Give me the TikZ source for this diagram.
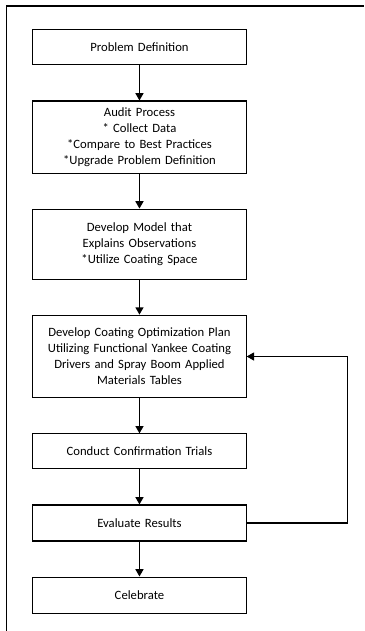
\documentclass[tikz,border=0pt]{standalone}
\usepackage{fontspec}
\setmainfont{Carlito}
\usetikzlibrary{arrows.meta,positioning}

\begin{document}
\begin{tikzpicture}[node distance=26.25pt,
  box/.style={draw,line width=0.8pt,minimum width=160pt,text width=156pt,
    align=center,inner sep=2pt,font=\fontsize{9.5}{12}\selectfont},
  flow/.style={-{Triangle[length=5.5pt,width=6pt]},line width=1.1pt}]
 \useasboundingbox (0,0) rectangle (273pt,-473.25pt);
 % frame
 \draw[line width=0.8pt] (5pt,-473.25pt) |- (273pt,-4.5pt);
 \node[box,minimum height=26.25pt] (def) at (104.6pt,-35.6pt) {Problem Definition};
 \node[box,minimum height=54pt] (audit)[below=of def] {Audit Process\\{}* Collect Data\\{}*Compare to Best Practices\\{}*Upgrade Problem Definition};
 \node[box,minimum height=52.5pt] (model)[below=of audit] {Develop Model that\\ Explains Observations\\{}*Utilize Coating Space};
 \node[box,minimum height=62pt] (plan)[below=of model] {Develop Coating Optimization Plan\\ Utilizing Functional Yankee Coating\\ Drivers and Spray Boom Applied\\ Materials Tables};
 \node[box,minimum height=26.25pt] (trials)[below=of plan] {Conduct Confirmation Trials};
 \node[box,minimum height=27pt] (eval)[below=of trials] {Evaluate Results};
 \node[box,minimum height=27pt] (cel)[below=of eval] {Celebrate};
 \path[flow]
 (def) edge (audit)
 (audit) edge (model)
 (model) edge (plan)
 (plan) edge (trials)
 (trials) edge (eval)
 (eval) edge (cel);
 % loop back
 \draw[flow,line width=0.8pt] (eval.east) -- ++(75.75pt,0) |- (plan.east);
\end{tikzpicture}
\end{document}
